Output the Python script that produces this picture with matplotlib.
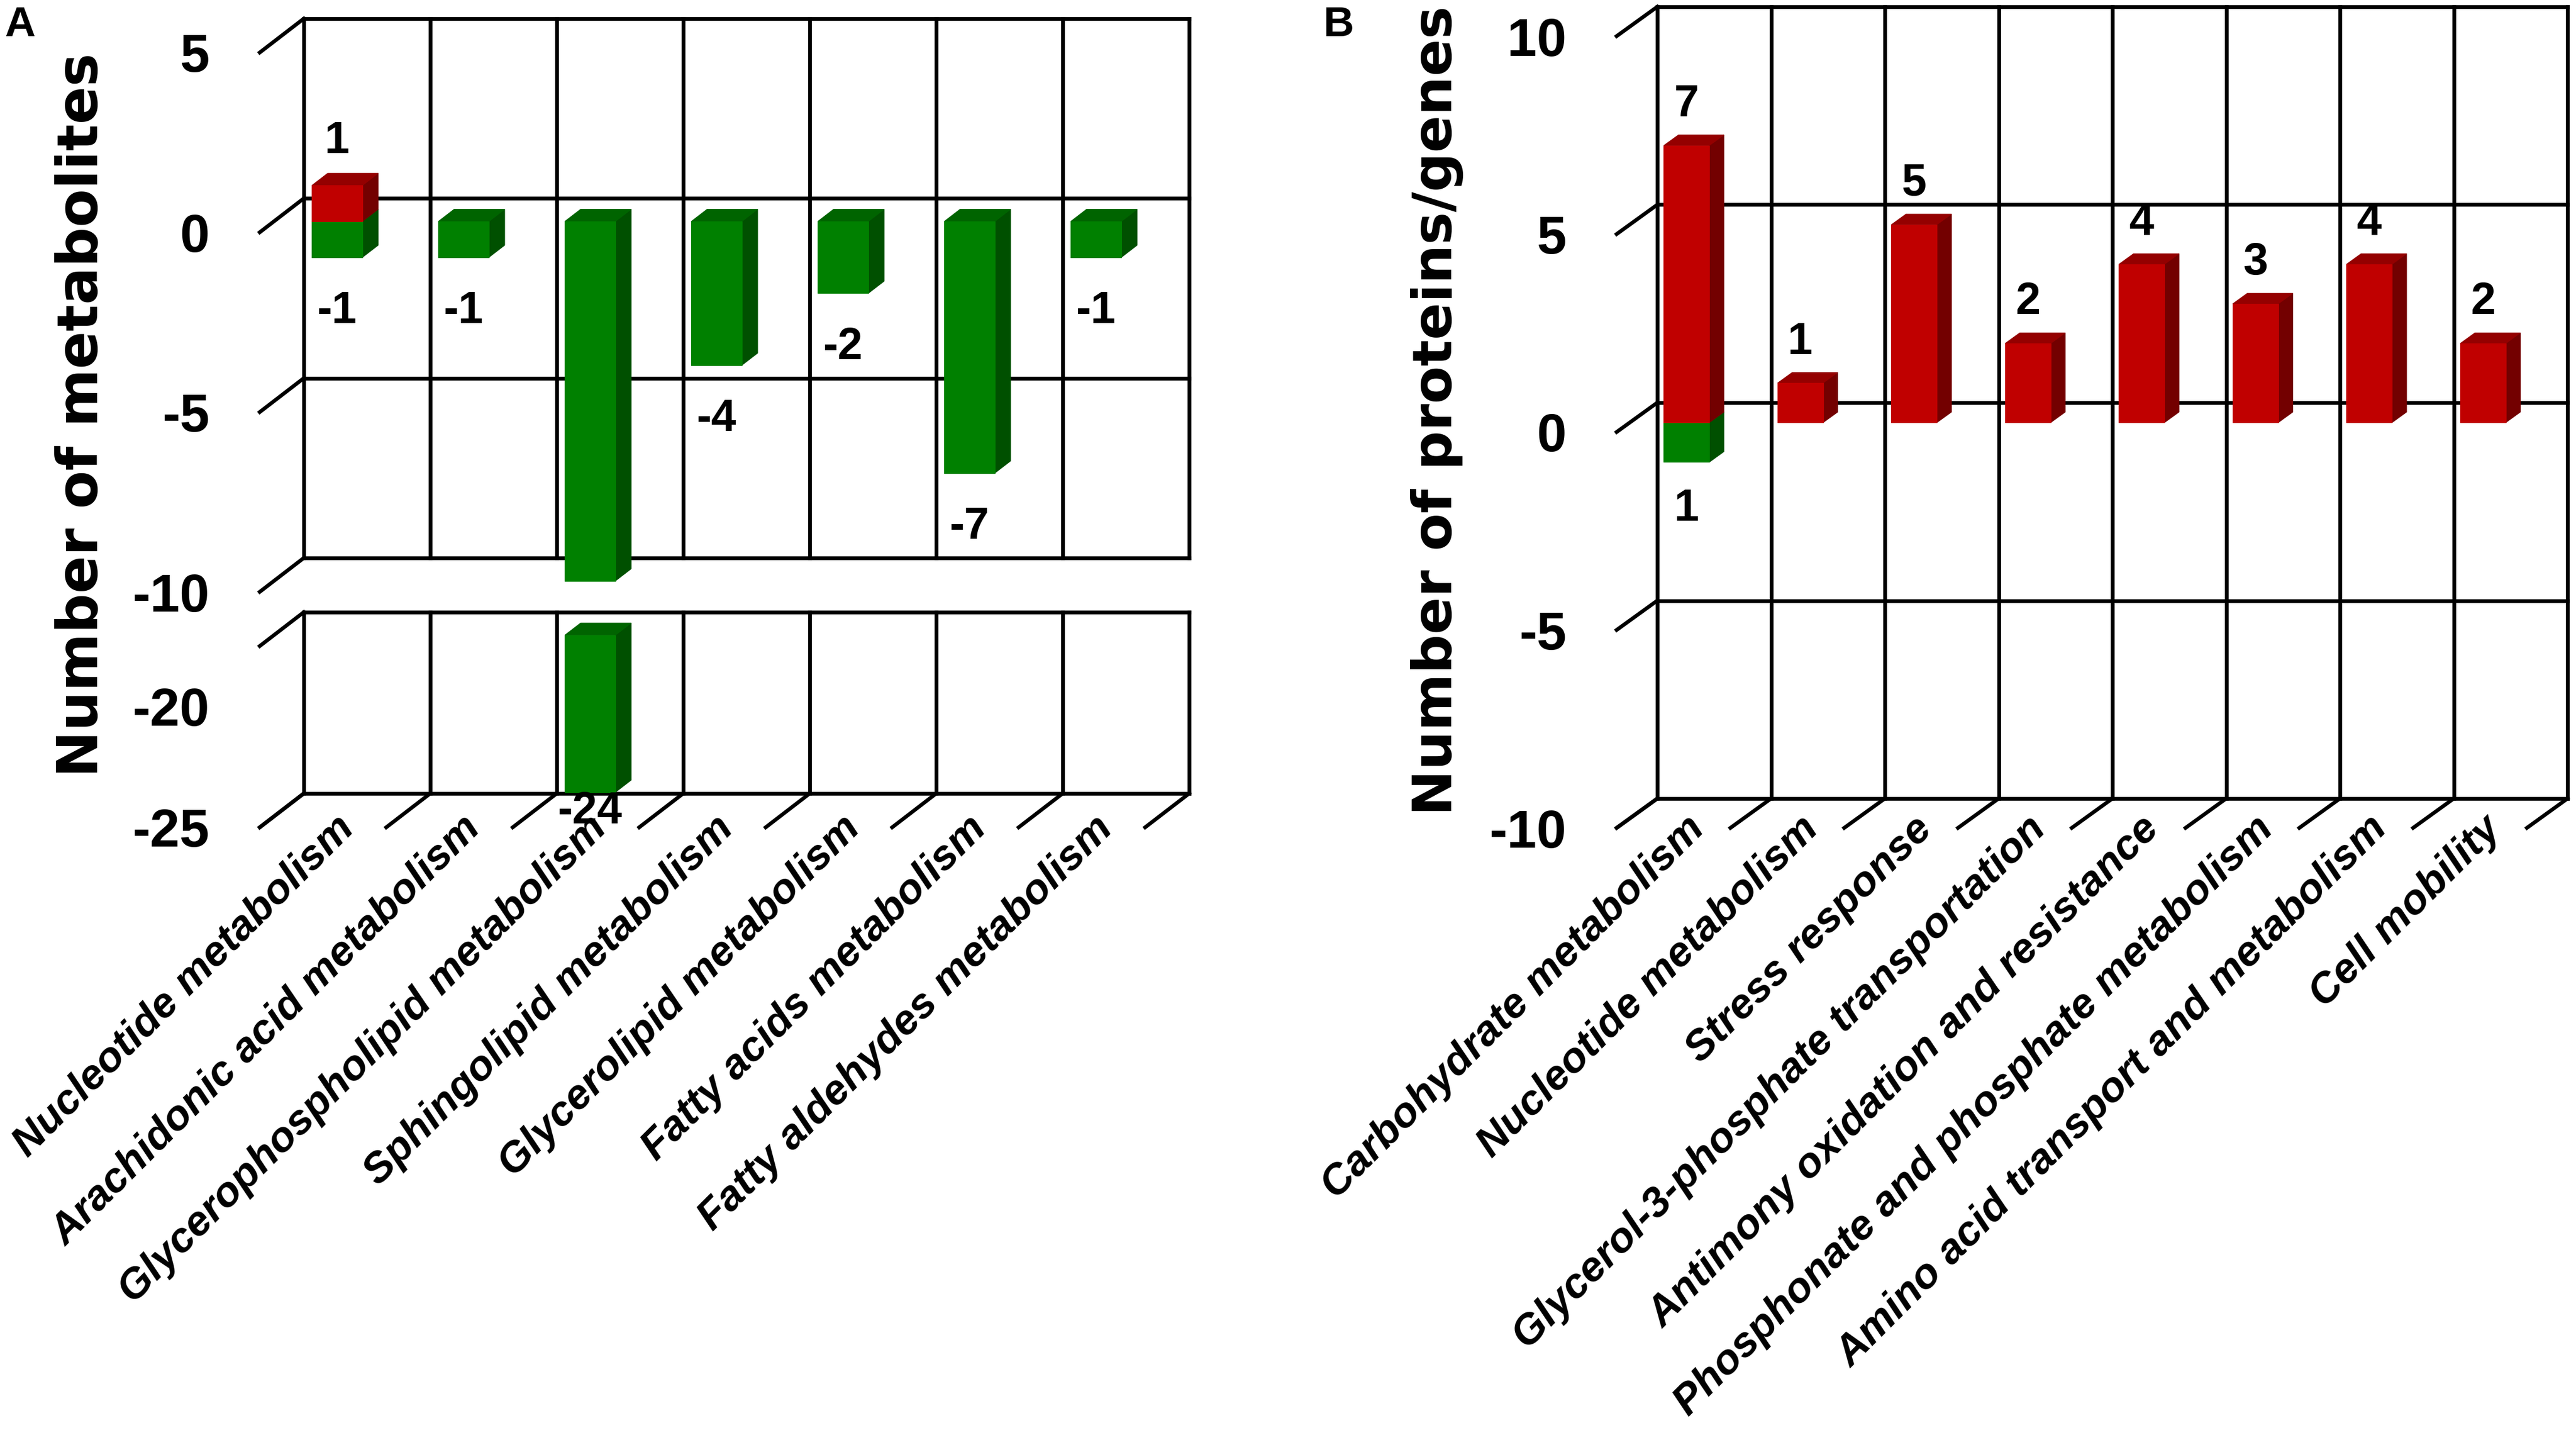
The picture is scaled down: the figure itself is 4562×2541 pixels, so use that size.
import matplotlib
matplotlib.use("Agg")
import matplotlib.pyplot as plt
from matplotlib.patches import Polygon
import numpy as np

OUTPUT_PATH = "out.png"

# ---- data -------------------------------------------------------------
A_CATEGORIES = [
    "Nucleotide metabolism",
    "Arachidonic acid metabolism",
    "Glycerophospholipid metabolism",
    "Sphingolipid metabolism",
    "Glycerolipid metabolism",
    "Fatty acids metabolism",
    "Fatty aldehydes metabolism",
]
A_UP = [1, 0, 0, 0, 0, 0, 0]
A_DOWN = [-1, -1, -24, -4, -2, -7, -1]

B_CATEGORIES = [
    "Carbohydrate metabolism",
    "Nucleotide metabolism",
    "Stress response",
    "Glycerol-3-phosphate transportation",
    "Antimony oxidation and resistance",
    "Phosphonate and phosphate metabolism",
    "Amino acid transport and metabolism",
    "Cell mobility",
]
B_UP = [7, 1, 5, 2, 4, 3, 4, 2]
B_DOWN = [-1, 0, 0, 0, 0, 0, 0, 0]

A_UPPER_TICKS = [5, 0, -5, -10]
A_LOWER_TICKS = [-20, -25]
B_TICKS = [10, 5, 0, -5, -10]

# ---- style ------------------------------------------------------------
W, H, DPI = 4562, 2541, 100
RED = ("#C00000", "#940000", "#730000")      # front, top, side
GREEN = ("#008000", "#006400", "#005000")
F1, F2 = 0.32, 0.68      # bar depth span (fraction of wall depth)
BAR_W = 0.4
NUM_FONT = "Liberation Sans"
LINE_W = 4.8

fig = plt.figure(figsize=(W / DPI, H / DPI), dpi=DPI)
fig.patch.set_facecolor("white")


def add_section(box, ncat, ylim, ticks, depth):
    """box = front plane (x0, y0, x1, y1) in image pixels from top-left."""
    x0, y0, x1, y1 = box
    ax = fig.add_axes([x0 / W, 1 - y1 / H, (x1 - x0) / W, (y1 - y0) / H])
    ax.set_xlim(0, ncat)
    ax.set_ylim(*ylim)
    ax.patch.set_visible(False)
    for s in ax.spines.values():
        s.set_visible(False)
    ax.set_xticks([])
    ax.set_yticks(ticks)
    ax.set_yticklabels([str(t) for t in ticks], fontsize=68,
                       fontweight="bold", family=NUM_FONT)
    ax.tick_params(axis="y", length=0, pad=64)
    # wall depth expressed in data units
    dx = depth[0] / ((x1 - x0) / ncat)
    dy = depth[1] / ((y1 - y0) / (ylim[1] - ylim[0]))
    return {"ax": ax, "dx": dx, "dy": dy, "n": ncat, "ylim": ylim}


def draw_wall(sec, grid_vals, floor):
    ax, dx, dy, n = sec["ax"], sec["dx"], sec["dy"], sec["n"]
    lo, hi = sec["ylim"]
    kw = dict(color="black", lw=LINE_W, clip_on=False, zorder=1,
              solid_capstyle="projecting")
    for g in grid_vals:
        ax.plot([dx, n + dx], [g + dy, g + dy], **kw)
        ax.plot([0, dx], [g, g + dy], **kw)
    for k in range(n + 1):
        ax.plot([k + dx, k + dx], [lo + dy, hi + dy], **kw)
        if floor:
            ax.plot([k, k + dx], [lo, lo + dy], **kw)


def draw_bar(sec, i, v0, v1, colors, z):
    ax, dx, dy = sec["ax"], sec["dx"], sec["dy"]
    lo, hi = sec["ylim"]
    a, b = sorted((float(np.clip(v0, lo, hi)), float(np.clip(v1, lo, hi))))
    if b - a <= 0:
        return
    left, right = i + 0.5 - BAR_W / 2, i + 0.5 + BAR_W / 2
    fx, fy = F1 * dx, F1 * dy
    bx, by = F2 * dx, F2 * dy
    front = [(left + fx, a + fy), (right + fx, a + fy),
             (right + fx, b + fy), (left + fx, b + fy)]
    top = [(left + fx, b + fy), (right + fx, b + fy),
           (right + bx, b + by), (left + bx, b + by)]
    side = [(right + fx, a + fy), (right + bx, a + by),
            (right + bx, b + by), (right + fx, b + fy)]
    for pts, c in ((side, colors[2]), (top, colors[1]), (front, colors[0])):
        ax.add_patch(Polygon(pts, closed=True, facecolor=c, edgecolor=c,
                             lw=0.8, clip_on=False, zorder=z))


def label_bar(sec, i, value, text, pad, va):
    ax, dx, dy = sec["ax"], sec["dx"], sec["dy"]
    ax.annotate(text, (i + 0.5 + F1 * dx, value + F1 * dy),
                xytext=(0, pad), textcoords="offset points",
                ha="center", va=va, fontsize=57, fontweight="bold",
                family=NUM_FONT, zorder=6, annotation_clip=False)


def category_labels(sec, names):
    ax = sec["ax"]
    lo = sec["ylim"][0]
    for i, name in enumerate(names):
        ax.annotate(name, (i + 0.5, lo), xytext=(14, 24),
                    textcoords="offset points", rotation=45,
                    rotation_mode="anchor", ha="right", va="top",
                    fontsize=54, fontweight="bold", style="italic",
                    family=NUM_FONT, annotation_clip=False)


def section_for(value, sections):
    for sec in sections:
        lo, hi = sec["ylim"]
        if lo <= value <= hi:
            return sec
    return sections[-1]


# ---- panel A (broken axis: two stacked sections) -----------------------
nA = len(A_CATEGORIES)
a_top = add_section((460, 93, 2028, 1048), nA, (-10, 5), A_UPPER_TICKS, (78, 60))
a_bot = add_section((460, 1144, 2028, 1465), nA, (-25, -17.5), A_LOWER_TICKS, (78, 60))
draw_wall(a_top, A_UPPER_TICKS, floor=False)
draw_wall(a_bot, list(a_bot["ylim"]), floor=True)

for sec in (a_top, a_bot):
    for i in range(nA):
        draw_bar(sec, i, 0, A_DOWN[i], GREEN, 3)
        draw_bar(sec, i, 0, A_UP[i], RED, 4)

for i in range(nA):
    if A_UP[i]:
        label_bar(a_top, i, A_UP[i], f"{A_UP[i]}", 56, "center")
    if A_DOWN[i]:
        sec = section_for(A_DOWN[i], [a_top, a_bot])
        pad = -42 if sec is a_top else 2
        label_bar(sec, i, A_DOWN[i], f"{A_DOWN[i]}", pad, "top")
category_labels(a_bot, A_CATEGORIES)

# ---- panel B ------------------------------------------------------------
nB = len(B_CATEGORIES)
b_sec = add_section((2863, 64, 4475, 1466), nB, (-10, 10), B_TICKS, (72, 52))
draw_wall(b_sec, B_TICKS, floor=True)
for i in range(nB):
    draw_bar(b_sec, i, 0, B_DOWN[i], GREEN, 3)
    draw_bar(b_sec, i, 0, B_UP[i], RED, 4)
    if B_UP[i]:
        label_bar(b_sec, i, B_UP[i], f"{B_UP[i]}", 52, "center")
    if B_DOWN[i]:
        label_bar(b_sec, i, B_DOWN[i], f"{abs(B_DOWN[i])}", -60, "center")
category_labels(b_sec, B_CATEGORIES)

# ---- titles -------------------------------------------------------------
fig.text(145 / W, 1 - 735 / H, "Number of metabolites", rotation=90,
         ha="center", va="center", fontsize=71, fontweight="bold",
         family="DejaVu Sans")
fig.text(2545 / W, 1 - 727 / H, "Number of proteins/genes", rotation=90,
         ha="center", va="center", fontsize=70, fontweight="bold",
         family="DejaVu Sans")
fig.text(35 / W, 1 - 44 / H, "A", ha="center", va="center", fontsize=54,
         fontweight="bold", family="Liberation Sans")
fig.text(2371 / W, 1 - 44 / H, "B", ha="center", va="center", fontsize=54,
         fontweight="bold", family="Liberation Sans")

fig.savefig(OUTPUT_PATH, dpi=DPI, facecolor="white")
